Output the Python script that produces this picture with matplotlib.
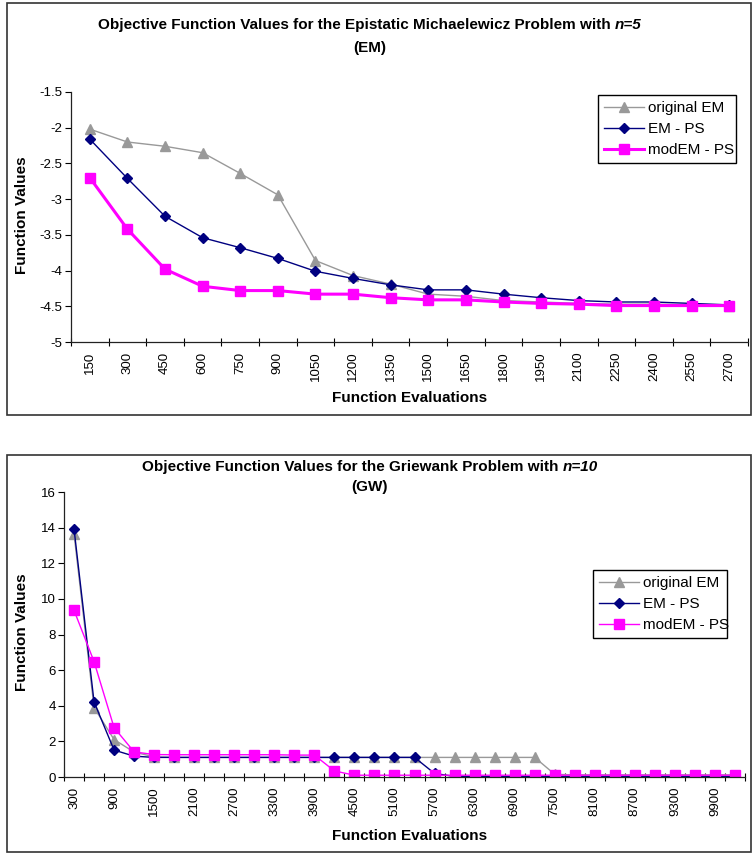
import matplotlib
matplotlib.use("Agg")
import matplotlib.pyplot as plt
import matplotlib.patches as patches

plt.rcParams['font.family'] = ['Liberation Sans', 'DejaVu Sans']

# top chart: Epistatic Michaelewicz, n=5
evals_em = [150, 300, 450, 600, 750, 900, 1050, 1200, 1350, 1500, 1650, 1800,
            1950, 2100, 2250, 2400, 2550, 2700]
orig_em = [-2.02, -2.2, -2.26, -2.35, -2.64, -2.94, -3.86, -4.07, -4.19, -4.33, -4.36,
           -4.42, -4.44, -4.46, -4.47, -4.47, -4.48, -4.49]
emps_em = [-2.16, -2.71, -3.24, -3.54, -3.68, -3.83, -4.01, -4.11, -4.2, -4.27, -4.27,
           -4.33, -4.38, -4.42, -4.44, -4.44, -4.46, -4.48]
modem_em = [-2.7, -3.42, -3.98, -4.22, -4.28, -4.28, -4.33, -4.33, -4.38, -4.41, -4.41,
            -4.44, -4.46, -4.47, -4.49, -4.49, -4.49, -4.49]

# bottom chart: Griewank, n=10
evals_gw = [300, 600, 900, 1200, 1500, 1800, 2100, 2400, 2700, 3000, 3300, 3600,
            3900, 4200, 4500, 4800, 5100, 5400, 5700, 6000, 6300, 6600, 6900, 7200,
            7500, 7800, 8100, 8400, 8700, 9000, 9300, 9600, 9900, 10200]
orig_gw = [13.65, 3.9, 2.1, 1.4, 1.13, 1.1, 1.1, 1.1, 1.1, 1.1, 1.1, 1.1,
           1.1, 1.1, 1.1, 1.1, 1.1, 1.1, 1.1, 1.1, 1.1, 1.1, 1.1, 1.1,
           0.15, 0.12, 0.12, 0.12, 0.12, 0.12, 0.12, 0.12, 0.12, 0.12]
emps_gw = [13.93, 4.22, 1.51, 1.17, 1.1, 1.1, 1.1, 1.1, 1.1, 1.1, 1.1, 1.1,
           1.1, 1.1, 1.1, 1.1, 1.1, 1.1, 0.2, 0.03, 0.03, 0.03, 0.03, 0.03,
           0.03, 0.03, 0.03, 0.03, 0.03, 0.03, 0.03, 0.03, 0.03, 0.03]
modem_gw = [9.36, 6.48, 2.77, 1.41, 1.26, 1.25, 1.25, 1.25, 1.25, 1.25, 1.25, 1.23,
            1.23, 0.34, 0.1, 0.1, 0.1, 0.1, 0.1, 0.1, 0.1, 0.1, 0.1, 0.1,
            0.1, 0.1, 0.1, 0.1, 0.1, 0.1, 0.1, 0.1, 0.1, 0.1]

W, H = 752, 855
GRAY = '#999999'
NAVY = '#000080'
PINK = '#FF00FF'

fig = plt.figure(figsize=(W / 100, H / 100), dpi=100)
renderer = fig.canvas.get_renderer()


def px_axes(left, top, right, bottom):
    return fig.add_axes([left / W, 1 - bottom / H, (right - left) / W, (bottom - top) / H])


def frame(left, top, right, bottom):
    r = patches.Rectangle((left / W, 1 - bottom / H), (right - left) / W, (bottom - top) / H,
                          transform=fig.transFigure, fill=False, edgecolor='#333333',
                          linewidth=1.2)
    fig.patches.append(r)


def title_line(xc, y, main, ital):
    # bold text followed by a bold-italic piece, centred as one line
    t1 = fig.text(0, 1 - y / H, main, fontsize=11, fontweight='bold', va='center')
    t2 = fig.text(0, 1 - y / H, ital, fontsize=11, fontweight='bold', style='italic', va='center')
    w1 = t1.get_window_extent(renderer).width
    w2 = t2.get_window_extent(renderer).width
    x0 = xc - (w1 + w2) / 2
    t1.set_x(x0 / W)
    t2.set_x((x0 + w1) / W)


def draw_chart(ax, cats, orig, emps, modem, pink_lw, yticks, label_step, leg_box):
    x = list(range(len(cats)))
    ax.plot(x, orig, color=GRAY, lw=1, marker='^', ms=7, mec=GRAY, mfc=GRAY, label='original EM')
    ax.plot(x, emps, color=NAVY, lw=1, marker='D', ms=5.5, mec=NAVY, mfc=NAVY, label='EM - PS')
    ax.plot(x, modem, color=PINK, lw=pink_lw, marker='s', ms=7, mec=PINK, mfc=PINK,
            label='modEM - PS')
    ax.set_xlim(-0.5, len(cats) - 0.5)
    ax.set_ylim(yticks[0], yticks[-1])
    ax.set_yticks(yticks)
    ax.set_yticklabels([f'{v:g}' for v in yticks])
    ax.set_xticks(x[::label_step])
    ax.set_xticklabels([str(c) for c in cats[::label_step]], rotation=90)
    ax.set_xticks([i - 0.5 for i in range(len(cats) + 1)], minor=True)
    ax.tick_params(axis='x', which='major', length=0, pad=7, labelsize=9.5)
    ax.tick_params(axis='x', which='minor', direction='inout', length=6, width=0.8)
    ax.tick_params(axis='y', direction='out', length=4, width=0.8, labelsize=9.5, pad=2)
    ax.spines['top'].set_visible(False)
    ax.spines['right'].set_visible(False)
    for s in ['left', 'bottom']:
        ax.spines[s].set_linewidth(0.9)
        ax.spines[s].set_color('#222222')
    ax.set_facecolor('none')
    l, t, r, b = leg_box
    leg = ax.legend(loc='upper left', bbox_to_anchor=(l / W, 1 - b / H, (r - l) / W, (b - t) / H),
                    bbox_transform=fig.transFigure, mode='expand', fontsize=11, frameon=True,
                    fancybox=False, edgecolor='black', framealpha=1, handlelength=2.6,
                    handletextpad=0.3, borderpad=0.4, labelspacing=0.45, borderaxespad=0)
    leg.get_frame().set_linewidth(1.0)


# top panel
frame(7, 3, 751, 415)
title_line(370, 25, 'Objective Function Values for the Epistatic Michaelewicz Problem with ', 'n=5')
fig.text(370 / W, 1 - 48 / H, '(EM)', fontsize=11, fontweight='bold', ha='center', va='center')
ax1 = px_axes(71, 92, 748, 342)
draw_chart(ax1, evals_em, orig_em, emps_em, modem_em, 2.2,
           [-5, -4.5, -4, -3.5, -3, -2.5, -2, -1.5], 1, (598, 95, 736, 164))
fig.text(410 / W, 1 - 398 / H, 'Function Evaluations', fontsize=11, fontweight='bold',
         ha='center', va='center')
fig.text(22 / W, 1 - 215 / H, 'Function Values', fontsize=11, fontweight='bold',
         ha='center', va='center', rotation=90)

# bottom panel
frame(7, 455, 751, 852)
title_line(370, 467, 'Objective Function Values for the Griewank Problem with ', 'n=10')
fig.text(370 / W, 1 - 487 / H, '(GW)', fontsize=11, fontweight='bold', ha='center', va='center')
ax2 = px_axes(64, 492, 745, 777)
draw_chart(ax2, evals_gw, orig_gw, emps_gw, modem_gw, 1.0,
           [0, 2, 4, 6, 8, 10, 12, 14, 16], 2, (593, 570, 727, 637))
fig.text(410 / W, 1 - 836 / H, 'Function Evaluations', fontsize=11, fontweight='bold',
         ha='center', va='center')
fig.text(22 / W, 1 - 632 / H, 'Function Values', fontsize=11, fontweight='bold',
         ha='center', va='center', rotation=90)

fig.savefig('out.png', dpi=100)
